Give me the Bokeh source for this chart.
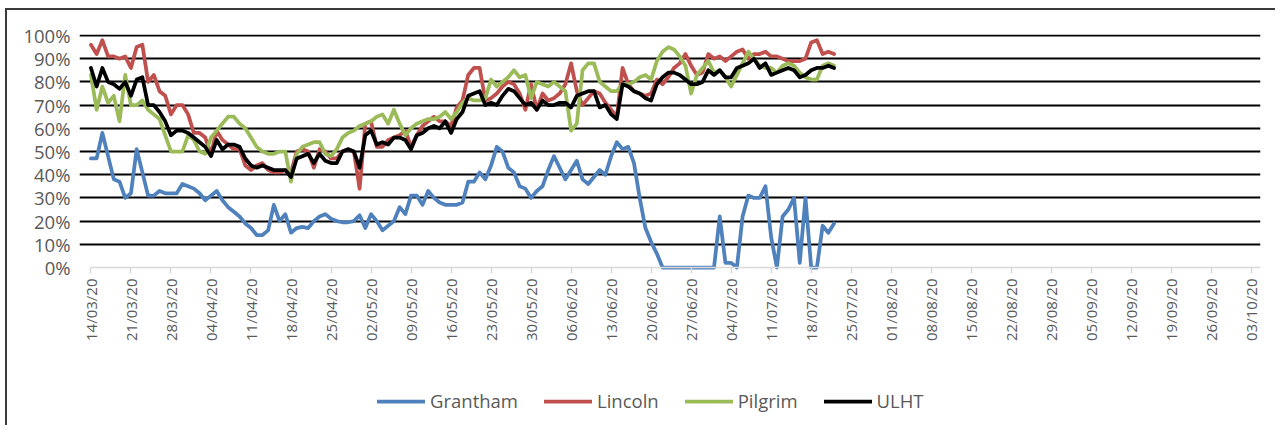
import math
from datetime import datetime, timedelta
import pandas as pd
from bokeh.plotting import figure
from bokeh.models import (Range1d, FixedTicker, PrintfTickFormatter, Legend, LegendItem,
                          DatetimeTickFormatter)
from bokeh.embed import file_html
from bokeh.resources import INLINE

# ---------------- data (daily occupancy %, from 14/03/20) ----------------
start_date = "2020-03-14"

grantham = [47, 47, 58, 48, 38, 37, 30, 32, 51, 41, 31, 31, 33, 32, 32, 32, 36, 35, 34, 32,
            29, 31, 33, 29, 26, 24, 22, 19, 17, 14, 14, 16, 27, 20, 23, 15, 17, 17.5, 17, 20,
            22, 23, 21, 20, 19.5, 19.5, 20, 22.5, 17, 23, 20, 16, 18, 20, 26, 23, 31, 31, 27, 33,
            30, 28, 27, 27, 27, 28, 37, 37, 41, 38, 44, 52, 50, 43, 41, 35, 34, 30, 33, 35,
            42, 48, 43, 38, 42, 46, 38, 36, 39, 42, 40, 48, 54, 51, 52, 45, 30, 17, 11, 6,
            0, 0, 0, 0, 0, 0, 0, 0, 0, 0, 22, 2, 2, 0, 22, 31, 30, 30, 35, 13,
            0, 22, 25, 30, 2, 30, 0, 0, 18, 15, 19]

lincoln = [96, 92, 98, 91, 91, 90, 91, 86, 95, 96, 80, 83, 76, 74, 66, 70, 70, 66, 58, 58,
           56, 49, 59, 55, 53, 51, 51, 44, 42, 44, 45, 42, 41, 41, 42, 41, 50, 51, 50, 43,
           51, 50, 47, 47, 50, 51, 50, 34, 62, 63, 52, 52, 55, 56, 57, 59, 52, 57, 61, 63,
           65, 63, 63, 61, 69, 72, 83, 86, 86, 72, 73, 75, 78, 80, 79, 75, 68, 79, 68, 75,
           72, 73, 75, 79, 88, 76, 70, 73, 76, 75, 71, 68, 65, 86, 79, 76, 75, 74, 75, 81,
           79, 82, 86, 88, 92, 87, 83, 84, 92, 90, 91, 89, 91, 93, 94, 90, 92, 92, 93, 91,
           91, 90, 89, 89, 89, 90, 97, 98, 92, 93, 92]

pilgrim = [83, 68, 78, 71, 74, 63, 83, 70, 70, 72, 68, 66, 64, 57, 50, 50, 50, 57, 55, 50,
           49, 56, 59, 62, 65, 65, 62, 60, 56, 52, 50, 49, 49, 50, 50, 37, 49, 52, 53, 54,
           54, 49, 48, 51, 56, 58, 59, 61, 62, 63, 65, 66, 62, 68, 62, 57, 60, 62, 63, 64,
           64, 65, 67, 64, 67, 71, 73, 72, 72, 73, 81, 78, 80, 82, 85, 82, 83, 73, 80, 79,
           78, 80, 78, 76, 59, 62, 85, 88, 88, 80, 78, 76, 76, 79, 79, 80, 82, 83, 81, 89,
           93, 95, 94, 91, 87, 75, 83, 86, 89, 84, 85, 82, 78, 83, 88, 93, 90, 87, 86, 86,
           84, 87, 88, 87, 84, 82, 81, 81, 87, 88, 87]

ulht = [86, 78, 86, 80, 79, 77, 80, 74, 81, 82, 70, 70, 67, 63, 57, 59, 59, 58, 56, 54,
        52, 48, 55, 51, 53, 53, 52, 47, 44, 43, 44, 43, 42, 42, 42, 39, 47, 48, 49, 45,
        49, 46, 45, 45, 50, 51, 50, 43, 57, 59, 53, 54, 53, 56, 56, 55, 51, 57, 58, 60,
        61, 60, 63, 58, 64, 67, 74, 75, 76, 70, 71, 70, 74, 77, 76, 73, 70, 71, 68, 72,
        70, 70, 71, 71, 69, 74, 75, 76, 76, 69, 70, 66, 64, 79, 78, 76, 75, 73, 72, 79,
        82, 84, 84, 83, 81, 79, 79, 80, 85, 83, 85, 82, 82, 86, 87, 88, 90, 86, 88, 83,
        84, 85, 86, 85, 82, 83, 85, 86, 86, 87, 86]

series_names = ["Grantham", "Lincoln", "Pilgrim", "ULHT"]
series_colors = ["#4F81BD", "#C0504D", "#9BBB59", "#000000"]

x_tick_labels = ["14/03/20", "21/03/20", "28/03/20", "04/04/20", "11/04/20", "18/04/20",
                 "25/04/20", "02/05/20", "09/05/20", "16/05/20", "23/05/20", "30/05/20",
                 "06/06/20", "13/06/20", "20/06/20", "27/06/20", "04/07/20", "11/07/20",
                 "18/07/20", "25/07/20", "01/08/20", "08/08/20", "15/08/20", "22/08/20",
                 "29/08/20", "05/09/20", "12/09/20", "19/09/20", "26/09/20", "03/10/20"]
y_ticks = [0, 10, 20, 30, 40, 50, 60, 70, 80, 90, 100]

# ---------------- figure ----------------
dates = pd.date_range(start_date, periods=len(ulht), freq="D")
epoch = datetime(1970, 1, 1)


def to_ms(d):
    return (d - epoch).total_seconds() * 1000


tick_ms = [to_ms(datetime.strptime(s, "%d/%m/%y")) for s in x_tick_labels]

axis_start = datetime(2020, 3, 14)
axis_end = axis_start + timedelta(days=204.6)
view_start = axis_start - timedelta(days=2)   # small room so the first date label is not clipped

FONT = "Open Sans"
TXT = "#595959"

# frame spans the whole chart height; the 0% baseline carries the date axis
p = figure(width=1270, height=417, x_axis_type="datetime",
           x_range=Range1d(view_start, axis_end), y_range=Range1d(-68.1, 100.43),
           output_backend="svg", toolbar_location=None,
           min_border_left=72, min_border_right=17, min_border_top=24, min_border_bottom=2)
p.styles = {"margin-left": "5px", "margin-top": "8px",
            "border-top": "2px solid #3c3c3c", "border-left": "2px solid #3c3c3c"}
p.outline_line_color = None
p.background_fill_color = "white"
p.border_fill_color = "white"

# grid
p.xgrid.visible = False
p.ygrid.ticker = FixedTicker(ticks=y_ticks[1:])
p.ygrid.bounds = (to_ms(axis_start), to_ms(axis_end))
p.ygrid.grid_line_color = "#000000"
p.ygrid.grid_line_width = 2

# y axis
p.yaxis.ticker = FixedTicker(ticks=y_ticks)
p.yaxis.formatter = PrintfTickFormatter(format="%d%%")
p.yaxis.axis_line_color = None
p.yaxis.major_tick_line_color = None
p.yaxis.minor_tick_line_color = None
p.yaxis.major_tick_in = 0
p.yaxis.major_tick_out = 0
p.yaxis.major_label_standoff = 9
p.yaxis.major_label_text_font = FONT
p.yaxis.major_label_text_font_size = "18.5px"
p.yaxis.major_label_text_color = TXT

# x axis (drawn on the 0% line)
p.xaxis.fixed_location = 0
p.xaxis.bounds = (to_ms(axis_start), to_ms(axis_end))
p.xaxis.ticker = FixedTicker(ticks=tick_ms)
p.xaxis.formatter = DatetimeTickFormatter(days="%d/%m/%y", months="%d/%m/%y", years="%d/%m/%y",
                                          hours="%d/%m/%y", context=None)
p.xaxis.major_label_orientation = math.pi / 2
p.xaxis.axis_line_color = "#d9d9d9"
p.xaxis.axis_line_width = 1.5
p.xaxis.major_tick_line_color = "#d9d9d9"
p.xaxis.major_tick_line_width = 1.5
p.xaxis.major_tick_in = 0
p.xaxis.major_tick_out = 6
p.xaxis.minor_tick_line_color = None
p.xaxis.major_label_standoff = 5
p.xaxis.major_label_text_font = FONT
p.xaxis.major_label_text_font_size = "15px"
p.xaxis.major_label_text_color = TXT

renderers = []
for name, color, vals in zip(series_names, series_colors, [grantham, lincoln, pilgrim, ulht]):
    r = p.line(dates, vals, line_color=color, line_width=3.75, line_join="round", line_cap="round")
    renderers.append(r)

legend = Legend(items=[LegendItem(label=n, renderers=[r]) for n, r in zip(series_names, renderers)],
                orientation="horizontal", location=(298, 12),
                glyph_width=48, glyph_height=20, label_standoff=5, spacing=26,
                padding=0, margin=0, border_line_color=None, background_fill_alpha=0,
                label_text_font=FONT, label_text_font_size="18.5px", label_text_color=TXT)
p.add_layout(legend)

open("out.html", "w").write(file_html(p, INLINE))
